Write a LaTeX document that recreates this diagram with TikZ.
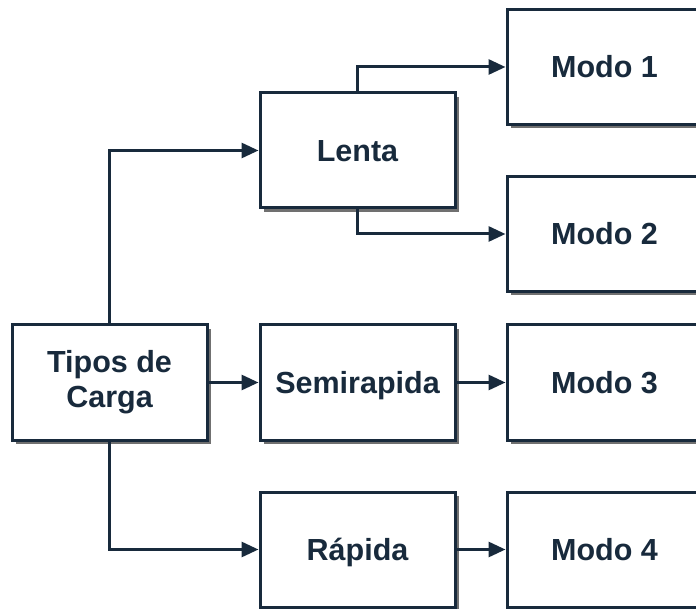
\documentclass[tikz,border=0pt]{standalone}
\usepackage{fontspec}
\setmainfont{Liberation Sans}
\usepackage{tikz}
\usetikzlibrary{arrows.meta,positioning,calc,shadows}
\definecolor{navy}{RGB}{24,42,60}
\tikzstyle{caja}=[draw=navy,fill=white,line width=3pt,minimum width=195pt,minimum height=115pt,inner sep=0pt,align=center,text=navy,font=\fontsize{30.5}{35}\selectfont\bfseries,drop shadow={shadow xshift=4pt,shadow yshift=-4pt,fill=black!70,opacity=0.8}]
\tikzstyle{linea}=[caja,text height=22pt,text depth=0pt]
\tikzstyle{flecha}=[navy,line width=3pt,-{Triangle[length=17pt,width=15pt]}]

\begin{document}
\begin{tikzpicture}[x=1pt,y=-1pt]
    \useasboundingbox (0,0) rectangle (696,609);
    \begin{scope}
    \clip (0,0) rectangle (696,609);
    \node [caja] (tipos) at (109.5,382.5) {Tipos de\\Carga};
    \node [linea] (lenta) at (357.5,150.5) {Lenta};
    \node [linea] (semi) at (357.5,382.5) {Semirapida};
    \node [linea] (rapida) at (357.5,549.5) {Rápida};
    \node [linea] (modo1) at (604.5,67) {Modo 1};
    \node [linea] (modo2) at (604.5,234) {Modo 2};
    \node [linea] (modo3) at (604.5,382.5) {Modo 3};
    \node [linea] (modo4) at (604.5,549.5) {Modo 4};
    \end{scope}
    % conexiones
    \draw [flecha] (tipos.north) |- (lenta.west);
    \draw [flecha] (tipos.east) -- (semi.west);
    \draw [flecha] (tipos.south) |- (rapida.west);
    \draw [flecha] (lenta.north) |- (modo1.west);
    \draw [flecha] (lenta.south) |- (modo2.west);
    \draw [flecha] (semi.east) -- (modo3.west);
    \draw [flecha] (rapida.east) -- (modo4.west);
\end{tikzpicture}
\end{document}
